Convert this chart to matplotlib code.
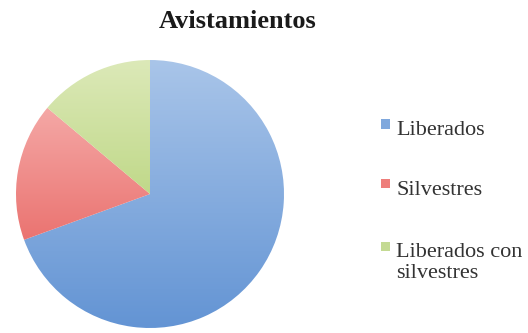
import numpy as np
import matplotlib
matplotlib.use("Agg")
import matplotlib.pyplot as plt
from matplotlib.colors import LinearSegmentedColormap
from matplotlib.patches import Rectangle

title = "Avistamientos"
categories = ["Liberados", "Silvestres", "Liberados con\nsilvestres"]
counts = [50, 12, 10]
# light (top) and dark (bottom) shade of each slice's vertical gradient
top_colors = ["#A9C5E9", "#F8BBB9", "#DCE9B8"]
bottom_colors = ["#6394D4", "#E4504D", "#A4C85A"]
legend_colors = ["#7FA8DD", "#EE7E7B", "#C4DA93"]

W, H = 528, 333
fig = plt.figure(figsize=(W / 100, H / 100), dpi=100)
fig.patch.set_facecolor("white")

cx, cy, r = 150, 194, 134
ax = fig.add_axes([(cx - r) / W, (H - cy - r) / H, 2 * r / W, 2 * r / H])
ax.set_aspect("equal")
ax.axis("off")

wedges, _ = ax.pie(counts, startangle=90, counterclock=False, radius=1,
                   center=(0, 0), frame=False)
ax.set_xlim(-1, 1)
ax.set_ylim(-1, 1)

grad = np.linspace(0, 1, 256).reshape(-1, 1)
for w, c0, c1 in zip(wedges, top_colors, bottom_colors):
    w.set_facecolor("none")
    w.set_edgecolor("none")
    cmap = LinearSegmentedColormap.from_list("g", [c0, c1])
    im = ax.imshow(grad, cmap=cmap, extent=(-1, 1, -1, 1), origin="upper",
                   aspect="auto", interpolation="bilinear", zorder=1)
    im.set_clip_path(w)

fig.text(238 / W, 1 - 28 / H, title, ha="center", va="baseline",
         fontsize=19, fontweight="bold", family="Liberation Serif",
         color="#1a1a1a")

# legend: square marker beside each label, aligned with its first line
baselines = [135, 195, 257]
sq = 9
for y, lab, col in zip(baselines, categories, legend_colors):
    yc = y - 11
    fig.patches.append(Rectangle((381 / W, 1 - (yc + sq / 2) / H),
                                 sq / W, sq / H, transform=fig.transFigure,
                                 facecolor=col, edgecolor="none"))
    lines = lab.split("\n")
    for i, line in enumerate(lines):
        fig.text(396 / W, 1 - (y + 21 * i) / H, line, ha="left",
                 va="baseline", fontsize=16, family="Liberation Serif",
                 color="#333333")

fig.savefig("out.png", dpi=100)
